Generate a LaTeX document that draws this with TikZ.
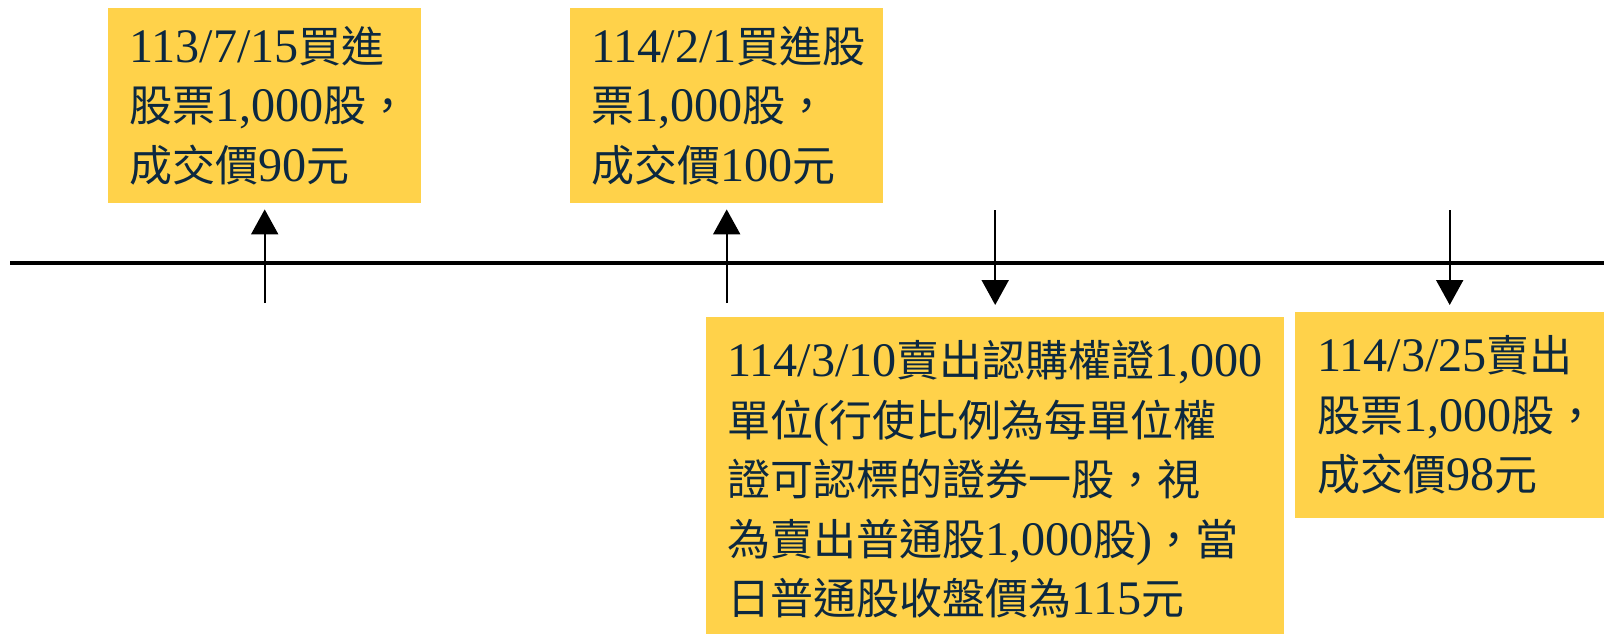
\documentclass[tikz,border=0pt]{standalone}
\usepackage{fontspec}
\usepackage{xcolor}
\usetikzlibrary{arrows.meta}
\setmainfont{Noto Sans CJK TC}
\newfontfamily\latfont{Liberation Serif}[Scale=1.12]
\newcommand{\nm}[1]{{\latfont #1}}
\definecolor{boxyellow}{RGB}{255,210,74}
\definecolor{boxtext}{RGB}{12,40,64}

\tikzset{
  evbox/.style={anchor=north west, fill=boxyellow, text=boxtext,
    align=left, inner xsep=21pt, inner ysep=0pt,
    font=\fontsize{43}{59.5}\selectfont},
  evarrow/.style={line width=2pt, -{Triangle[length=25pt,width=27pt]}},
}

\begin{document}
\begin{tikzpicture}[x=1pt,y=-1pt]
    \useasboundingbox (0,0) rectangle (1604,633);

    % timeline
    \coordinate (tlstart) at (10,263);
    \coordinate (tlend) at (1604,263);
    \draw[line width=4pt] (tlstart)--(tlend);

    \coordinate (lvltop) at (0,210);
    \coordinate (lvlbot) at (0,303);

    % buys
    \node[evbox,
    text width=271pt,
    minimum height=195pt] (buy1) at (108,8)
    {\nm{113/7/15}買進\\股票\nm{1,000}股，\\成交價\nm{90}元};

    \node[evbox,
    text width=271pt,
    minimum height=195pt] (buy2) at (570,8)
    {\nm{114/2/1}買進股\\票\nm{1,000}股，\\成交價\nm{100}元};

    % sells
    \node[evbox,
    text width=536pt,
    inner ysep=23pt] (sell1) at (706,317)
    {\nm{114/3/10}賣出認購權證\nm{1,000}\\單位\nm{(}行使比例為每單位權\\證可認標的證券一股，視\\為賣出普通股\nm{1,000}股\nm{)}，當\\日普通股收盤價為\nm{115}元};

    \node[evbox,
    text width=265pt,
    inner xsep=22pt,
    minimum height=206pt] (sell2) at (1295,312)
    {\nm{114/3/25}賣出\\股票\nm{1,000}股，\\成交價\nm{98}元};

    \draw[evarrow, shorten >=6pt] (buy1.south |- lvlbot)--(buy1.south);
    \draw[evarrow, shorten >=6pt] (buy2.south |- lvlbot)--(buy2.south);
    \draw[evarrow, shorten >=12pt] (sell1.north |- lvltop)--(sell1.north);
    \draw[evarrow, shorten >=7pt] (sell2.north |- lvltop)--(sell2.north);
\end{tikzpicture}
\end{document}
